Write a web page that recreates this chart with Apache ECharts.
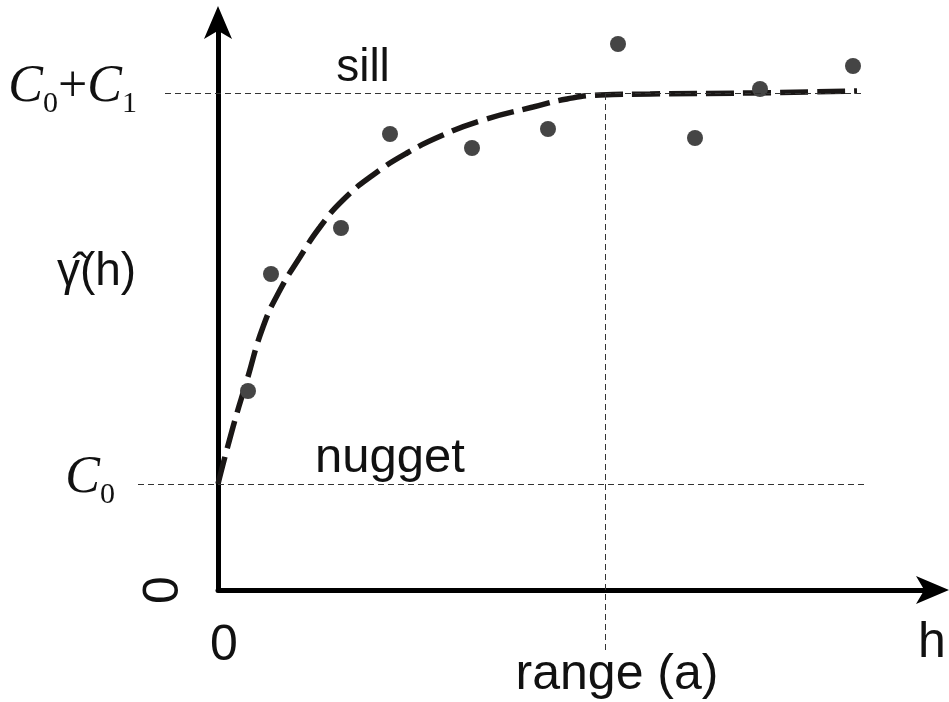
<!DOCTYPE html>
<html><head><meta charset="utf-8">
<script src="https://cdn.jsdelivr.net/npm/echarts@6/dist/echarts.min.js"></script>
<style>html,body{margin:0;padding:0;background:#fff}#c{width:949px;height:702px}</style>
</head><body><div id="c"></div>
<script>
// observed semivariance points (lag h, gamma-hat)
const lagH = [0.30, 0.53, 1.23, 1.72, 2.54, 3.30, 4.00, 4.77, 5.42, 6.35];
const gammaObs = [1.99, 3.16, 3.62, 4.56, 4.42, 4.61, 5.46, 4.52, 5.01, 5.24];
// fitted model curve
const modelH = [0, 0.15, 0.29, 0.45, 0.62, 0.82, 1.02, 1.25, 1.55, 1.89, 2.25, 2.65, 3.15, 3.49, 3.82, 4.32, 5.32, 6.39];
const modelGamma = [1.06, 1.63, 2.10, 2.63, 3.00, 3.33, 3.63, 3.90, 4.15, 4.37, 4.55, 4.70, 4.83, 4.91, 4.95, 4.96, 4.97, 4.99];
// model parameters
const nugget = 1.06, sill = 4.97, rangeA = 3.87;
// axis tick labels shown
const axisTickLabels = ['0'];
// annotation texts
const labels = {sill: 'sill', nugget: 'nugget', range: 'range (a)', x: 'h', y: 'γ\u0302(h)'};

const sansFont = "'Liberation Sans', Arial, sans-serif";
const serifFont = "'Liberation Serif', 'Times New Roman', serif";

const chart = echarts.init(document.getElementById('c'), null, {renderer: 'canvas'});

const richC = {
  c: {fontFamily: serifFont, fontStyle: 'italic', fontSize: 52, lineHeight: 52, color: '#111', padding: [0, 0, 12, 0]},
  p: {fontFamily: serifFont, fontSize: 52, lineHeight: 52, color: '#111', padding: [0, 0, 12, 0]},
  s: {fontFamily: serifFont, fontSize: 30, lineHeight: 30, verticalAlign: 'bottom', color: '#111'}
};

const option = {
  animation: false,
  backgroundColor: '#fff',
  grid: [
    {left: 138, right: 16, top: 22, bottom: 42},
    {left: 218, right: 16, top: 22, bottom: 112}
  ],
  xAxis: [
    {gridIndex: 0, type: 'value', min: -0.80, max: 7.15, show: false},
    {gridIndex: 1, type: 'value', min: 0, max: 7.15,
      axisLine: {show: true, symbol: ['none', 'arrow'], symbolSize: [21, 33], symbolOffset: [0, 16], lineStyle: {color: '#000', width: 5}},
      axisTick: {show: false}, splitLine: {show: false},
      axisLabel: {formatter: v => v === 0 ? axisTickLabels[0] : '', fontFamily: sansFont, fontSize: 50, color: '#111', margin: 31, padding: [0, 0, 0, 12]},
      name: labels.x, nameLocation: 'end', nameGap: -15,
      nameTextStyle: {fontFamily: sansFont, fontSize: 50, color: '#111', verticalAlign: 'top', lineHeight: 106}
    }
  ],
  yAxis: [
    {gridIndex: 0, type: 'value', min: -0.70, max: 5.68, show: false},
    {gridIndex: 1, type: 'value', min: 0, max: 5.68,
      axisLine: {show: true, symbol: ['none', 'arrow'], symbolSize: [21, 33], symbolOffset: [0, 16], lineStyle: {color: '#000', width: 5}},
      axisTick: {show: false}, splitLine: {show: false},
      axisLabel: {formatter: v => v === 0 ? axisTickLabels[0] : '', fontFamily: sansFont, fontSize: 50, color: '#111', rotate: 90, margin: 29},
      name: labels.y, nameLocation: 'middle', nameRotate: 0, nameGap: 121,
      nameTextStyle: {fontFamily: sansFont, fontSize: 46, color: '#111', align: 'center', verticalAlign: 'bottom', lineHeight: 68}
    }
  ],
  series: [
    {
      name: 'annotations', type: 'scatter', xAxisIndex: 0, yAxisIndex: 0, z: 1,
      symbolSize: 0, silent: true, itemStyle: {opacity: 1},
      data: [
        {value: [1.45, 5.22], label: {formatter: labels.sill}},
        {value: [1.72, 1.32], label: {formatter: labels.nugget, fontSize: 49}}
      ],
      label: {show: true, position: 'inside', fontFamily: sansFont, fontSize: 46, color: '#111'},
      markLine: {
        silent: true, symbol: ['none', 'none'], animation: false,
        lineStyle: {color: '#333', width: 1, type: [6, 4], opacity: 1},
        data: [
          [{coord: [-0.53, sill], label: {show: true, position: 'start', distance: 28, formatter: '{c|C}{s|0}{p|+}{c|C}{s|1}', rich: richC}},
           {coord: [6.47, sill]}],
          [{coord: [-0.80, nugget], label: {show: true, position: 'start', distance: 23, formatter: '{c|C}{s|0}', rich: richC}},
           {coord: [6.47, nugget]}],
          [{coord: [rangeA, -0.60], label: {show: true, position: 'start', distance: 0, formatter: labels.range, fontFamily: sansFont, fontSize: 50, color: '#111', padding: [0, 0, 0, 24]}},
           {coord: [rangeA, sill]}]
        ]
      }
    },
    {
      name: 'model', type: 'line', xAxisIndex: 0, yAxisIndex: 0, z: 3,
      data: modelH.map((h, i) => [h, modelGamma[i]]),
      smooth: 0.5, showSymbol: false, symbol: 'none',
      lineStyle: {color: '#1a1716', width: 5.5, type: [28, 9]}
    },
    {
      name: 'observed', type: 'scatter', xAxisIndex: 0, yAxisIndex: 0, z: 4,
      data: lagH.map((h, i) => [h, gammaObs[i]]),
      symbolSize: 16, itemStyle: {color: '#454545', opacity: 1}
    }
  ]
};
chart.setOption(option);
</script>
</body></html>
